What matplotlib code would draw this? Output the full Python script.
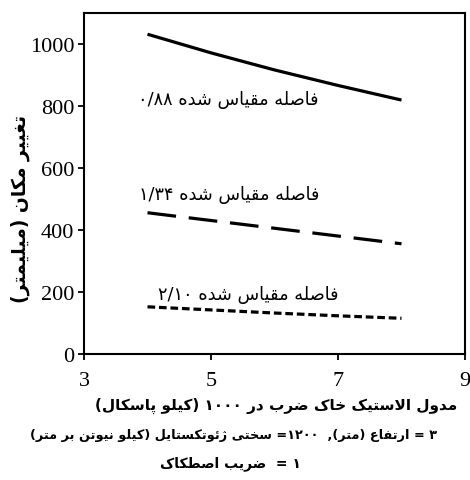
import re

import matplotlib

matplotlib.use("Agg")
import matplotlib.pyplot as plt

# contextual forms of the Persian letters used: (isolated, final, initial, medial)
FORMS = {
    "ا": (0xFE8D, 0xFE8E, None, None),
    "ب": (0xFE8F, 0xFE90, 0xFE91, 0xFE92),
    "پ": (0xFB56, 0xFB57, 0xFB58, 0xFB59),
    "ت": (0xFE95, 0xFE96, 0xFE97, 0xFE98),
    "خ": (0xFEA5, 0xFEA6, 0xFEA7, 0xFEA8),
    "د": (0xFEA9, 0xFEAA, None, None),
    "ر": (0xFEAD, 0xFEAE, None, None),
    "ژ": (0xFB8A, 0xFB8B, None, None),
    "س": (0xFEB1, 0xFEB2, 0xFEB3, 0xFEB4),
    "ش": (0xFEB5, 0xFEB6, 0xFEB7, 0xFEB8),
    "ص": (0xFEB9, 0xFEBA, 0xFEBB, 0xFEBC),
    "ض": (0xFEBD, 0xFEBE, 0xFEBF, 0xFEC0),
    "ط": (0xFEC1, 0xFEC2, 0xFEC3, 0xFEC4),
    "ع": (0xFEC9, 0xFECA, 0xFECB, 0xFECC),
    "غ": (0xFECD, 0xFECE, 0xFECF, 0xFED0),
    "ف": (0xFED1, 0xFED2, 0xFED3, 0xFED4),
    "ق": (0xFED5, 0xFED6, 0xFED7, 0xFED8),
    "ک": (0xFB8E, 0xFB8F, 0xFB90, 0xFB91),
    "ل": (0xFEDD, 0xFEDE, 0xFEDF, 0xFEE0),
    "م": (0xFEE1, 0xFEE2, 0xFEE3, 0xFEE4),
    "ن": (0xFEE5, 0xFEE6, 0xFEE7, 0xFEE8),
    "ه": (0xFEE9, 0xFEEA, 0xFEEB, 0xFEEC),
    "و": (0xFEED, 0xFEEE, None, None),
    "ی": (0xFBFC, 0xFBFD, 0xFBFE, 0xFBFF),
    "ئ": (0xFE89, 0xFE8A, 0xFE8B, 0xFE8C),
}
LAM_ALEF = (0xFEFB, 0xFEFC)
MIRROR = {"(": ")", ")": "("}


def shape(s):
    out = []
    i = 0
    while i < len(s):
        c = s[i]
        if c not in FORMS:
            out.append(c)
            i += 1
            continue
        prev = s[i - 1] if i > 0 else None
        joins_prev = prev in FORMS and FORMS[prev][2] is not None
        if c == "ل" and i + 1 < len(s) and s[i + 1] == "ا":
            out.append(chr(LAM_ALEF[1] if joins_prev else LAM_ALEF[0]))
            i += 2
            continue
        nxt = s[i + 1] if i + 1 < len(s) else None
        iso, fin, ini, med = FORMS[c]
        joins_next = ini is not None and nxt in FORMS
        if joins_prev and joins_next:
            g = med
        elif joins_prev:
            g = fin
        elif joins_next:
            g = ini
        else:
            g = iso
        out.append(chr(g))
        i += 1
    return "".join(out)


def fa(s):
    """Shape a right-to-left string and put it in left-to-right drawing order."""
    units = re.findall(r"[0-9۰-۹]+(?:[/.][0-9۰-۹]+)*|.", shape(s))
    return "".join(MIRROR.get(u, u) for u in reversed(units))


# modulus of soil elasticity x 1000 (kPa)
modulus = [4, 5, 6, 7, 8]
# lateral displacement (mm) for three scaled distances
disp_088 = [1030, 970, 915, 865, 818]
disp_134 = [455, 430, 405, 380, 355]
disp_210 = [152, 142, 132, 123, 115]
labels = ["فاصله مقیاس شده ۰/۸۸", "فاصله مقیاس شده ۱/۳۴", "فاصله مقیاس شده ۲/۱۰"]
label_pos = [(6.70, 822), (6.70, 516), (7.00, 194)]

x_ticks = [3, 5, 7, 9]
y_ticks = [0, 200, 400, 600, 800, 1000]

xlabel = "مدول الاستیک خاک ضرب در ۱۰۰۰ (کیلو پاسکال)"
note_1 = "۳ = ارتفاع (متر),  ۱۲۰۰= سختی ژئوتکستایل (کیلو نیوتن بر متر)"
note_2 = "۱ =  ضریب اصطکاک"
ylabel = "تغییر مکان (میلیمتر)"

W, H = 470, 481
fig = plt.figure(figsize=(W / 100, H / 100), dpi=100)
ax = fig.add_axes([84 / W, 1 - 355 / H, (465 - 84) / W, (355 - 13.5) / H])

ax.plot(modulus, disp_088, color="black", lw=2.3, solid_capstyle="butt")
ax.plot(modulus, disp_134, color="black", lw=2.3, dashes=(9.0, 4.0), dash_capstyle="butt")
ax.plot(modulus, disp_210, color="black", lw=2.3, dashes=(2.4, 1.2), dash_capstyle="butt")

for text, (x, y) in zip(labels, label_pos):
    ax.text(x, y, fa(text), fontsize=12.8, family="DejaVu Sans", ha="right", va="center")

ax.set_xlim(3, 9)
ax.set_ylim(0, 1100)
ax.set_xticks(x_ticks)
ax.set_yticks(y_ticks)
ax.tick_params(direction="out", length=4, width=1.3, labelsize=16)
ax.tick_params(axis="x", pad=8)
ax.tick_params(axis="y", pad=3)
for lab in ax.get_xticklabels() + ax.get_yticklabels():
    lab.set_family("Liberation Serif")
for sp in ax.spines.values():
    sp.set_linewidth(1.5)

bold = dict(family="DejaVu Sans", fontweight="bold", ha="center", va="center")
fig.text(276 / W, 1 - 406 / H, fa(xlabel), fontsize=11, **bold)
fig.text(234 / W, 1 - 436 / H, fa(note_1), fontsize=9.3, **bold)
fig.text(230 / W, 1 - 464 / H, fa(note_2), fontsize=10, **bold)
fig.text(20 / W, 1 - 209 / H, fa(ylabel), rotation=90, fontsize=13.5, **bold)

fig.savefig("out.png", dpi=100)
